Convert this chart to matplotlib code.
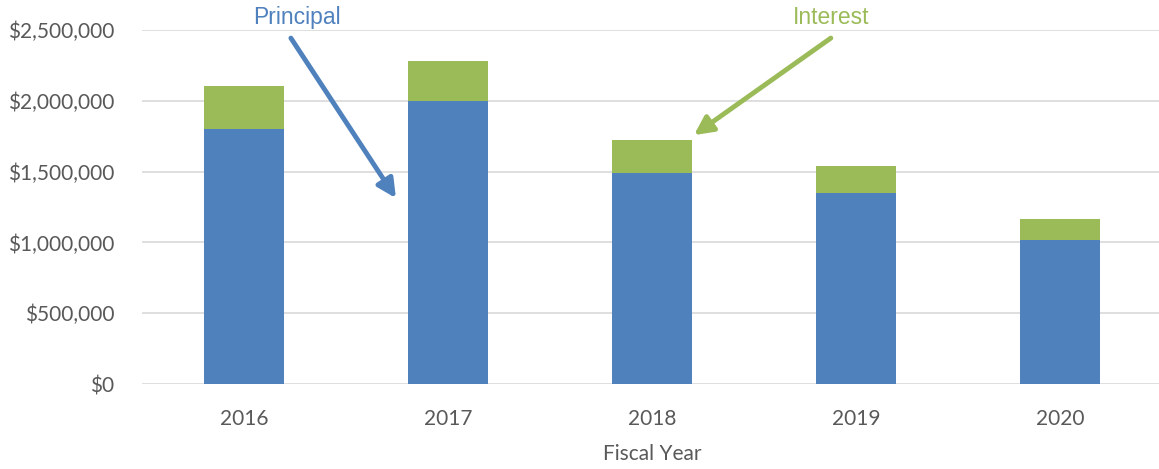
import matplotlib.pyplot as plt
from matplotlib.ticker import FuncFormatter

# debt service by fiscal year
years = ['2016', '2017', '2018', '2019', '2020']
principal = [1800000, 2000000, 1490000, 1350000, 1015000]
interest = [305000, 280000, 230000, 190000, 150000]

blue = '#4F81BD'
green = '#9BBB59'
grey = '#595959'

plt.rcParams['font.family'] = ['Lato', 'DejaVu Sans']
narrow = ['Liberation Sans Narrow', 'Liberation Sans', 'DejaVu Sans']

fig = plt.figure(figsize=(11.59, 4.69), dpi=100)
ax = fig.add_axes([0.1225, 0.181, 0.88, 0.755])

x = range(len(years))
ax.bar(x, principal, width=0.39, color=blue, zorder=2)
ax.bar(x, interest, width=0.39, bottom=principal, color=green, zorder=2)

ax.set_xlim(-0.5, 4.5)
ax.set_ylim(0, 2500000)
ax.set_yticks(range(0, 2500001, 500000))
ax.yaxis.set_major_formatter(FuncFormatter(lambda v, p: '${:,.0f}'.format(v)))
ax.set_xticks(list(x))
ax.set_xticklabels(years)

ax.grid(axis='y', color='#D9D9D9', lw=1.2, zorder=0)
for s in ax.spines.values():
    s.set_visible(False)
ax.tick_params(length=0, labelsize=15, colors=grey, pad=18)
ax.tick_params(axis='y', pad=20)
ax.set_xlabel('Fiscal Year', fontsize=15, color=grey, labelpad=11)

# callouts for the two series
ax.text(0.26, 2585000, 'Principal', ha='center', va='center',
        fontsize=16.5, color=blue, family=narrow, clip_on=False)
ax.annotate('', xy=(0.745, 1313000), xytext=(0.23, 2443000),
            annotation_clip=False,
            arrowprops=dict(arrowstyle='-|>', color=blue, lw=3.5,
                            mutation_scale=28, shrinkA=0, shrinkB=0))
ax.text(2.877, 2585000, 'Interest', ha='center', va='center',
        fontsize=16.5, color=green, family=narrow, clip_on=False)
ax.annotate('', xy=(2.206, 1758000), xytext=(2.877, 2443000),
            annotation_clip=False,
            arrowprops=dict(arrowstyle='-|>', color=green, lw=3.5,
                            mutation_scale=28, shrinkA=0, shrinkB=0))

fig.savefig('out.png', dpi=100)
